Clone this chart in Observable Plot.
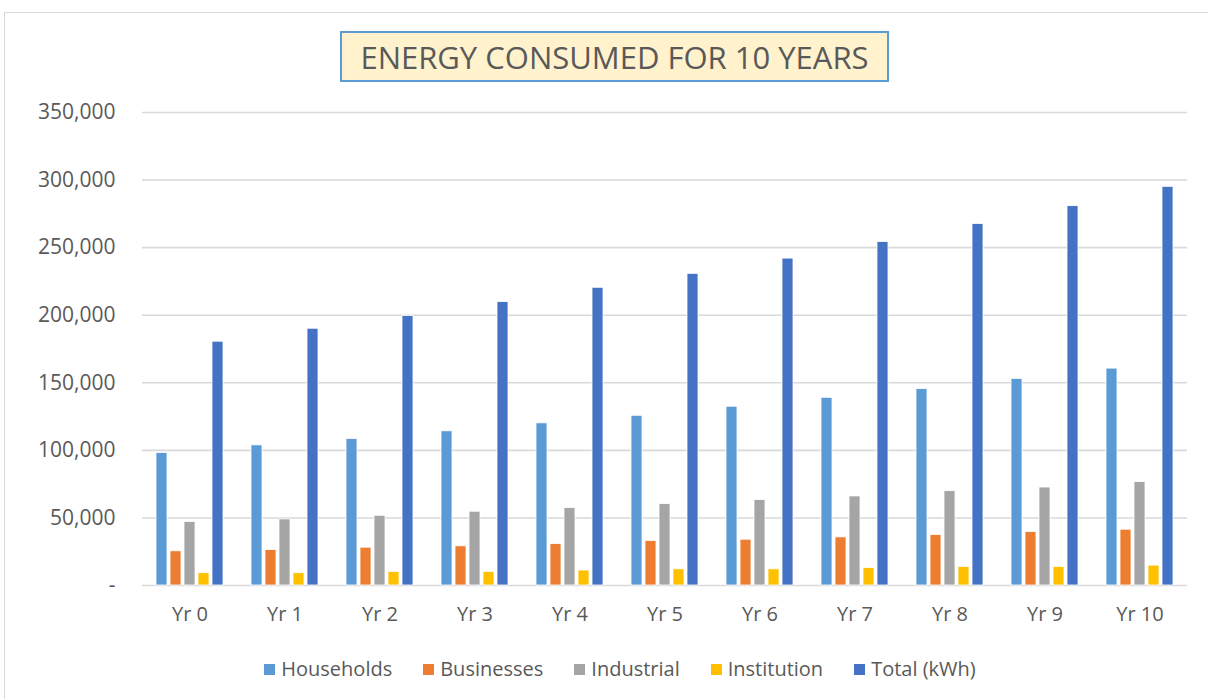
<!DOCTYPE html>
<html>
<head>
<meta charset="utf-8">
<script src="https://cdn.jsdelivr.net/npm/d3@7"></script>
<script src="https://cdn.jsdelivr.net/npm/@observablehq/plot@0.6"></script>
<style>
  html, body { margin: 0; padding: 0; background: #fff; width: 1208px; height: 699px; overflow: hidden; }
  body { position: relative; font-family: "Open Sans", sans-serif; color: #595959; }
  #frame { position: absolute; left: 4px; top: 12px; width: 1220px; height: 720px; border: 1px solid #D9D9D9; box-sizing: border-box; }
  #title { position: absolute; left: 340px; top: 31px; width: 549px; height: 51px; box-sizing: border-box;
           background: #FFF2CC; border: 2px solid #5B9BD5; font-size: 31px; line-height: 48px; text-align: center; color: #595959; white-space: nowrap; }
  #chart { position: absolute; left: 0; top: 90px; }
  #legend { position: absolute; left: 0; width: 1240px; top: 655px; display: flex; justify-content: center; gap: 31px; font-size: 20px; line-height: 28px; color: #595959; }
  .item { display: flex; align-items: center; gap: 6px; }
  .sw { width: 11px; height: 11px; display: inline-block; }
</style>
</head>
<body>
<div id="frame"></div>
<div id="title">ENERGY CONSUMED FOR 10 YEARS</div>
<div id="chart"></div>
<div id="legend"></div>
<script>
const years = ["Yr 0","Yr 1","Yr 2","Yr 3","Yr 4","Yr 5","Yr 6","Yr 7","Yr 8","Yr 9","Yr 10"];
const series = ["Households","Businesses","Industrial","Institution","Total (kWh)"];
const colors = ["#5B9BD5","#ED7D31","#A5A5A5","#FFC000","#4472C4"];
const households = [98100,103700,108400,114100,120000,125600,132300,138900,145300,152900,160500];
const businesses = [25300,26300,28000,29000,30700,33000,33900,35600,37400,39600,41300];
const industrial = [47000,48900,51600,54600,57300,60200,63200,65900,69800,72500,76500];
const institution = [9100,9100,10100,10100,11100,12000,12000,13000,13800,13800,14700];
const total = [180400,190000,199400,209700,220300,230600,241900,254200,267500,280700,295000];
const yTicks = [0,50000,100000,150000,200000,250000,300000,350000];

const seriesValues = [households, businesses, industrial, institution, total];
const data = [];
years.forEach((yr, i) => {
  series.forEach((s, j) => data.push({year: yr, series: s, value: seriesValues[j][i]}));
});

const fmt = d => d === 0 ? "-" : d3.format(",")(d);

const plot = Plot.plot({
  width: 1208,
  height: 545,
  marginLeft: 138,
  marginRight: 17,
  marginTop: 22,
  marginBottom: 50,
  style: {fontFamily: "Open Sans, sans-serif", fontSize: "20px", color: "#595959", background: "transparent"},
  fx: {domain: years, padding: 0, label: null, axis: "bottom", tickSize: 0, tickPadding: 21},
  x: {domain: series, axis: null, paddingInner: 0.2, paddingOuter: 0.855},
  y: {domain: [0, 350000], axis: null},
  color: {domain: series, range: colors},
  marks: [
    Plot.gridY(yTicks, {stroke: "#D9D9D9", strokeOpacity: 1, strokeWidth: 1.6}),
    Plot.axisY(yTicks, {tickFormat: fmt, tickSize: 0, tickPadding: 27, fontSize: 21, fill: "#595959", label: null}),
    Plot.barY(data, {fx: "year", x: "series", y: "value", fill: "series", stroke: "white", strokeWidth: 0.8})
  ]
});
document.getElementById("chart").appendChild(plot);

const legend = document.getElementById("legend");
series.forEach((s, i) => {
  const it = document.createElement("div");
  it.className = "item";
  const sw = document.createElement("span");
  sw.className = "sw";
  sw.style.background = colors[i];
  const t = document.createElement("span");
  t.textContent = s;
  it.appendChild(sw); it.appendChild(t);
  legend.appendChild(it);
});
</script>
</body>
</html>
